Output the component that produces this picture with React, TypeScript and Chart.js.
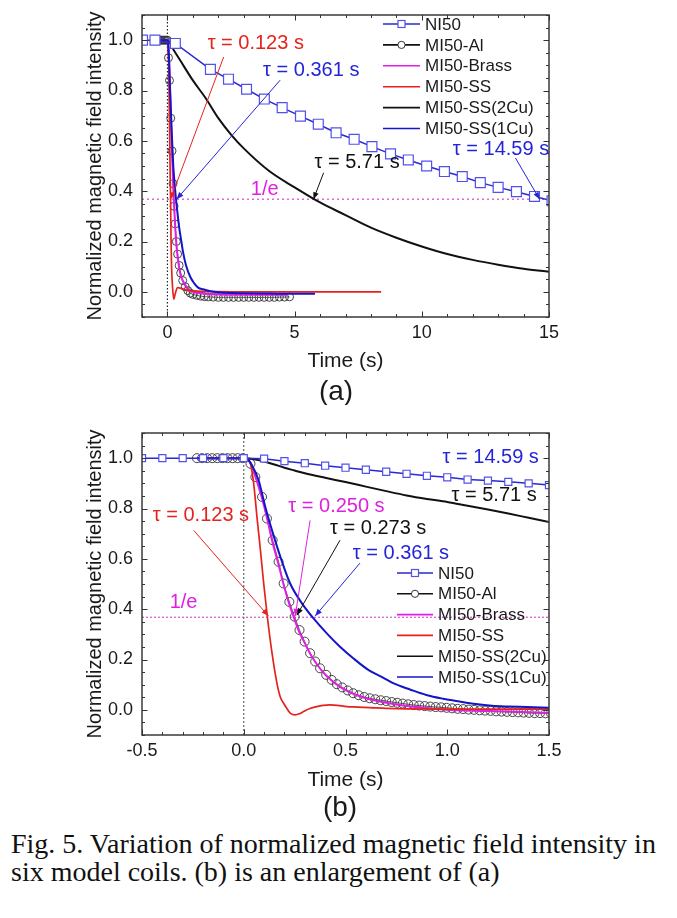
import React, { useEffect, useRef } from "react";
import { Chart, registerables } from "chart.js";
Chart.register(...registerables);

const FONT = "'Liberation Sans', Arial, Helvetica, sans-serif";
const SERIF = "'Liberation Serif', 'Times New Roman', serif";

// ---------------- colours ----------------
const C_NI50 = "#2a2ad0";
const C_NI50_MK = "#5252ea";
const C_BLUE = "#1414c8";
const C_BLUE_TXT = "#2424d8";
const C_MAG = "#e020e0";
const C_RED = "#e5231d";
const C_BLK = "#111111";
const C_AL = "#333333";

// ---------------- panel (a) data ----------------
const aNI50T = [-0.98, -0.49, 0.31, 1.69, 2.4, 3.11, 3.81, 4.51, 5.23, 5.93, 6.63, 7.34, 8.04, 8.77, 9.47, 10.19, 10.89, 11.59, 12.3, 13.0, 13.72, 14.43, 15.12];
const aNI50V = [1.0, 1.0, 0.987, 0.884, 0.845, 0.805, 0.766, 0.732, 0.698, 0.666, 0.632, 0.606, 0.577, 0.548, 0.524, 0.5, 0.478, 0.458, 0.434, 0.415, 0.398, 0.379, 0.362];

const aAlT = [-0.35, -0.3, -0.25, -0.2, -0.15, -0.1, -0.05, 0, 0.04, 0.08, 0.13, 0.18, 0.22, 0.26, 0.3, 0.35, 0.4, 0.46, 0.52, 0.6, 0.7, 0.8, 0.9, 1.0, 1.15, 1.3, 1.45, 1.6, 1.8, 2.0, 2.2, 2.4, 2.6, 2.8, 3.0, 3.2, 3.4, 3.6, 3.8, 4.0, 4.2, 4.4, 4.6, 4.8];
const aAlV = [1, 1, 1, 1, 1, 1, 1, 1, 0.93, 0.84, 0.69, 0.56, 0.43, 0.34, 0.27, 0.2, 0.15, 0.105, 0.075, 0.045, 0.02, 0.005, -0.005, -0.01, -0.014, -0.017, -0.019, -0.02, -0.021, -0.022, -0.022, -0.022, -0.022, -0.022, -0.022, -0.022, -0.022, -0.022, -0.022, -0.022, -0.022, -0.021, -0.021, -0.02];

const aBrassT = [-0.3, 0, 0.03, 0.06, 0.1, 0.15, 0.2, 0.25, 0.3, 0.35, 0.4, 0.5, 0.6, 0.75, 0.9, 1.1, 1.3, 1.6, 2.0, 2.5, 3.0, 3.5, 4.0, 4.7];
const aBrassV = [1, 1, 0.98, 0.92, 0.82, 0.64, 0.5, 0.37, 0.27, 0.19, 0.14, 0.075, 0.045, 0.02, 0.005, -0.003, -0.006, -0.009, -0.011, -0.012, -0.012, -0.012, -0.012, -0.012];

const aSST = [-0.3, 0, 0.03, 0.05, 0.07, 0.09, 0.11, 0.123, 0.14, 0.16, 0.2, 0.25, 0.3, 0.4, 0.5, 0.7, 1.0, 1.5, 2, 3, 4, 5, 6, 7, 8.4];
const aSSV = [1, 1, 0.98, 0.9, 0.75, 0.6, 0.45, 0.368, 0.22, 0.11, 0.02, -0.03, -0.01, 0.017, 0.015, 0.008, 0.004, 0.002, 0.001, 0, 0, 0, 0, 0, 0];

const a2CuT = [-0.3, 0, 0.25, 0.5, 1, 1.5, 2, 2.5, 3, 4, 5, 6, 7, 8, 9, 10, 11, 12, 13, 14, 15];
const a2CuV = [1, 1, 0.96, 0.92, 0.84, 0.77, 0.69, 0.625, 0.57, 0.48, 0.415, 0.355, 0.305, 0.255, 0.215, 0.18, 0.15, 0.127, 0.108, 0.092, 0.08];

const a1CuT = [-0.3, 0, 0.02, 0.04, 0.07, 0.1, 0.14, 0.18, 0.23, 0.29, 0.34, 0.41, 0.47, 0.54, 0.61, 0.73, 0.9, 1.06, 1.22, 1.4, 1.7, 2.0, 2.5, 3, 4, 5, 5.8];
const a1CuV = [1, 1, 0.997, 0.97, 0.91, 0.81, 0.71, 0.61, 0.5, 0.42, 0.365, 0.3, 0.25, 0.205, 0.16, 0.106, 0.059, 0.033, 0.016, 0.01, 0.002, -0.002, -0.005, -0.006, -0.007, -0.008, -0.008];

// ---------------- panel (b) data ----------------
const bNI50T = [-0.5, -0.4, -0.3, -0.2, -0.1, 0.0, 0.1, 0.2, 0.3, 0.4, 0.5, 0.6, 0.7, 0.8, 0.9, 1.0, 1.1, 1.2, 1.3, 1.4, 1.5];
const bNI50V = [1, 1, 1, 1, 1, 1, 0.998, 0.988, 0.98, 0.97, 0.962, 0.954, 0.946, 0.938, 0.93, 0.924, 0.915, 0.911, 0.906, 0.9, 0.893];

const bAlT = [-0.23, -0.205, -0.18, -0.155, -0.13, -0.105, -0.08, -0.055, -0.03, -0.005, 0.033, 0.057, 0.09, 0.114, 0.142, 0.171, 0.196, 0.224, 0.25, 0.274, 0.299, 0.326, 0.351, 0.375, 0.405, 0.432, 0.457, 0.484, 0.511, 0.538, 0.565, 0.592, 0.619, 0.646, 0.673, 0.7, 0.727, 0.754, 0.781, 0.808, 0.835, 0.862, 0.889, 0.916, 0.943, 0.97, 0.997, 1.024, 1.051, 1.078, 1.105, 1.132, 1.159, 1.186, 1.213, 1.24, 1.267, 1.294, 1.321, 1.348, 1.375, 1.402, 1.429, 1.456, 1.483, 1.51];
const bAlV = [1, 1, 1, 1, 1, 1, 1, 1, 1, 1, 0.978, 0.925, 0.846, 0.76, 0.674, 0.588, 0.502, 0.429, 0.37, 0.317, 0.271, 0.225, 0.192, 0.165, 0.139, 0.119, 0.102, 0.089, 0.077, 0.066, 0.058, 0.051, 0.046, 0.042, 0.038, 0.035, 0.031, 0.028, 0.025, 0.022, 0.019, 0.017, 0.015, 0.013, 0.011, 0.01, 0.008, 0.006, 0.004, 0.003, 0.001, 0.0, -0.002, -0.003, -0.004, -0.006, -0.007, -0.008, -0.009, -0.01, -0.011, -0.012, -0.013, -0.013, -0.014, -0.014];

const bBrassT = [-0.23, 0, 0.02, 0.04, 0.06, 0.09, 0.115, 0.14, 0.17, 0.195, 0.22, 0.245, 0.27, 0.3, 0.33, 0.36, 0.4, 0.45, 0.5, 0.55, 0.6, 0.7, 0.8, 0.9, 1.0, 1.1, 1.2, 1.3, 1.4, 1.5];
const bBrassV = [1, 1, 0.995, 0.97, 0.92, 0.84, 0.76, 0.67, 0.58, 0.5, 0.43, 0.37, 0.315, 0.265, 0.218, 0.18, 0.14, 0.105, 0.078, 0.06, 0.046, 0.028, 0.015, 0.007, 0.0, -0.003, -0.005, -0.007, -0.01, -0.013];

const bSST = [-0.23, 0, 0.02, 0.033, 0.049, 0.065, 0.082, 0.098, 0.117, 0.139, 0.163, 0.18, 0.196, 0.212, 0.228, 0.253, 0.275, 0.294, 0.325, 0.359, 0.39, 0.424, 0.46, 0.506, 0.56, 0.62, 0.7, 0.8, 1.0, 1.2, 1.5];
const bSSV = [1, 1, 0.995, 0.978, 0.898, 0.766, 0.634, 0.502, 0.363, 0.225, 0.106, 0.05, 0.026, 0.005, -0.013, -0.02, -0.015, -0.007, 0.005, 0.013, 0.018, 0.02, 0.018, 0.013, 0.011, 0.009, 0.006, 0.004, 0.003, 0.003, 0.003];

const b2CuT = [-0.23, 0, 0.05, 0.1, 0.15, 0.2, 0.25, 0.3, 0.4, 0.5, 0.6, 0.7, 0.8, 0.9, 1.0, 1.1, 1.2, 1.3, 1.4, 1.5];
const b2CuV = [1, 1, 0.996, 0.987, 0.975, 0.962, 0.951, 0.94, 0.922, 0.905, 0.887, 0.869, 0.852, 0.838, 0.826, 0.811, 0.796, 0.78, 0.763, 0.746];

const b1CuT = [-0.23, 0, 0.016, 0.041, 0.073, 0.106, 0.139, 0.18, 0.228, 0.286, 0.343, 0.408, 0.473, 0.538, 0.612, 0.68, 0.734, 0.82, 0.897, 0.98, 1.06, 1.14, 1.22, 1.3, 1.39, 1.5];
const b1CuV = [1, 1, 0.997, 0.971, 0.912, 0.806, 0.713, 0.608, 0.502, 0.423, 0.363, 0.304, 0.251, 0.205, 0.159, 0.13, 0.106, 0.08, 0.059, 0.044, 0.033, 0.023, 0.016, 0.013, 0.011, 0.008];

// ---------------- axes / ticks ----------------
const aXLabels = [0, 5, 10, 15];
const aXMinorStep = 1;
const aXRange = [-1, 15];
const bXLabels = [-0.5, 0.0, 0.5, 1.0, 1.5];
const bXMinorStep = 0.1;
const bXRange = [-0.5, 1.5];
const yLabels = [0.0, 0.2, 0.4, 0.6, 0.8, 1.0];
const yMinorStep = 0.05;
const yRange = [-0.1, 1.1];
const INV_E = 0.368;

const legendLabels = ["NI50", "MI50-Al", "MI50-Brass", "MI50-SS", "MI50-SS(2Cu)", "MI50-SS(1Cu)"];
const legendColors = [C_NI50, C_BLK, C_MAG, C_RED, C_BLK, C_BLUE];

type Note = { text: string; color: string; tx: number; ty: number; arrow?: number[] };

const aNotes: Note[] = [
  { text: "τ = 0.123 s", color: C_RED, tx: 1.58, ty: 0.988, arrow: [2.21, 0.933, 0.123, 0.368] },
  { text: "τ = 0.361 s", color: C_BLUE_TXT, tx: 3.76, ty: 0.881, arrow: [4.43, 0.841, 0.361, 0.368] },
  { text: "τ = 5.71 s", color: C_BLK, tx: 5.78, ty: 0.512, arrow: [6.14, 0.473, 5.74, 0.368] },
  { text: "τ = 14.59 s", color: C_BLUE_TXT, tx: 11.22, ty: 0.564, arrow: [13.68, 0.532, 14.63, 0.368] },
  { text: "1/e", color: C_MAG, tx: 3.28, ty: 0.405 },
];
const bNotes: Note[] = [
  { text: "τ = 0.123 s", color: C_RED, tx: -0.447, ty: 0.773, arrow: [-0.246, 0.713, 0.121, 0.373] },
  { text: "τ = 0.250 s", color: C_MAG, tx: 0.219, ty: 0.809, arrow: [0.326, 0.753, 0.253, 0.373] },
  { text: "τ = 0.273 s", color: C_BLK, tx: 0.424, ty: 0.721, arrow: [0.473, 0.674, 0.261, 0.376] },
  { text: "τ = 0.361 s", color: C_BLUE_TXT, tx: 0.536, ty: 0.622, arrow: [0.571, 0.583, 0.351, 0.373] },
  { text: "τ = 14.59 s", color: C_BLUE_TXT, tx: 0.977, ty: 1.003 },
  { text: "τ = 5.71 s", color: C_BLK, tx: 1.021, ty: 0.852 },
  { text: "1/e", color: C_MAG, tx: -0.364, ty: 0.428 },
];

const pts = (t: number[], v: number[]) => t.map((x, i) => ({ x, y: v[i] }));

function stepValues(lo: number, hi: number, step: number) {
  const out: number[] = [];
  const n = Math.round((hi - lo) / step);
  for (let i = 0; i <= n; i++) out.push(+(lo + i * step).toFixed(4));
  return out;
}

type Panel = {
  height: number;
  top: number;
  bottom: number;
  xRange: number[];
  xLabels: number[];
  xMinorStep: number;
  xFmt: (v: number) => string;
  data: { ni: any[]; al: any[]; brass: any[]; ss: any[]; cu2: any[]; cu1: any[] };
  sqR: number;
  ciR: number;
  notes: Note[];
  legend: { x0: number; x1: number; tx: number; y0: number; dy: number };
  tag: string;
  tagX: number;
  tagY: number;
  titlePad: number;
  zeroColor: string;
  zeroDash: number[];
  eDash: number[];
  eWidth: number;
  eColor: string;
};

function arrow(ctx: CanvasRenderingContext2D, x1: number, y1: number, x2: number, y2: number, color: string) {
  ctx.save();
  ctx.strokeStyle = color;
  ctx.fillStyle = color;
  ctx.lineWidth = 1;
  ctx.beginPath();
  ctx.moveTo(x1, y1);
  ctx.lineTo(x2, y2);
  ctx.stroke();
  const ang = Math.atan2(y2 - y1, x2 - x1);
  const L = 7, W = 2.8;
  ctx.beginPath();
  ctx.moveTo(x2, y2);
  ctx.lineTo(x2 - L * Math.cos(ang) + W * Math.sin(ang), y2 - L * Math.sin(ang) - W * Math.cos(ang));
  ctx.lineTo(x2 - L * Math.cos(ang) - W * Math.sin(ang), y2 - L * Math.sin(ang) + W * Math.cos(ang));
  ctx.closePath();
  ctx.fill();
  ctx.restore();
}

function makePlugin(p: Panel) {
  return {
    id: "deco",
    beforeDatasetsDraw(chart: any) {
      const { ctx, chartArea: a, scales } = chart;
      ctx.save();
      // 1/e line
      const ye = scales.y.getPixelForValue(INV_E);
      ctx.strokeStyle = p.eColor;
      ctx.lineWidth = p.eWidth;
      ctx.setLineDash(p.eDash);
      ctx.beginPath();
      ctx.moveTo(a.left, ye);
      ctx.lineTo(a.right, ye);
      ctx.stroke();
      // t = 0 line
      const x0 = scales.x.getPixelForValue(0);
      ctx.strokeStyle = p.zeroColor;
      ctx.lineWidth = 1.2;
      ctx.setLineDash(p.zeroDash);
      ctx.beginPath();
      ctx.moveTo(x0, a.top);
      ctx.lineTo(x0, a.bottom);
      ctx.stroke();
      ctx.restore();
    },
    afterDatasetsDraw(chart: any) {
      const { ctx, chartArea: a, scales } = chart;
      const sx = scales.x, sy = scales.y;
      ctx.save();
      // frame
      ctx.strokeStyle = "#3a3a3a";
      ctx.lineWidth = 1.5;
      ctx.strokeRect(a.left, a.top, a.right - a.left, a.bottom - a.top);
      // inward ticks
      ctx.lineWidth = 1;
      ctx.strokeStyle = "#333";
      const xs = stepValues(p.xRange[0], p.xRange[1], p.xMinorStep);
      xs.forEach((v) => {
        const major = p.xLabels.some((m) => Math.abs(m - v) < 1e-6);
        const L = major ? 5.5 : 3;
        const px = Math.round(sx.getPixelForValue(v)) + 0.5;
        ctx.beginPath();
        ctx.moveTo(px, a.bottom);
        ctx.lineTo(px, a.bottom - L);
        ctx.moveTo(px, a.top);
        ctx.lineTo(px, a.top + L);
        ctx.stroke();
      });
      const ys = stepValues(yRange[0], yRange[1], yMinorStep);
      ys.forEach((v) => {
        const major = yLabels.some((m) => Math.abs(m - v) < 1e-6);
        const L = major ? 5.5 : 3;
        const py = Math.round(sy.getPixelForValue(v)) + 0.5;
        ctx.beginPath();
        ctx.moveTo(a.left, py);
        ctx.lineTo(a.left + L, py);
        ctx.moveTo(a.right, py);
        ctx.lineTo(a.right - L, py);
        ctx.stroke();
      });
      // annotations
      ctx.font = `20px ${FONT}`;
      ctx.textBaseline = "middle";
      ctx.textAlign = "left";
      p.notes.forEach((n) => {
        ctx.fillStyle = n.color;
        ctx.fillText(n.text, sx.getPixelForValue(n.tx), sy.getPixelForValue(n.ty));
        if (n.arrow) {
          const [x1, y1, x2, y2] = n.arrow;
          arrow(ctx, sx.getPixelForValue(x1), sy.getPixelForValue(y1), sx.getPixelForValue(x2), sy.getPixelForValue(y2), n.color);
        }
      });
      // legend
      const lg = p.legend;
      ctx.font = `17px ${FONT}`;
      legendLabels.forEach((lab, i) => {
        const y = lg.y0 + i * lg.dy;
        ctx.strokeStyle = legendColors[i];
        ctx.lineWidth = 1.6;
        ctx.beginPath();
        ctx.moveTo(lg.x0, y);
        ctx.lineTo(lg.x1, y);
        ctx.stroke();
        const cx = (lg.x0 + lg.x1) / 2;
        if (i === 0) {
          ctx.fillStyle = "#fff";
          ctx.fillRect(cx - 3.5, y - 3.5, 7, 7);
          ctx.strokeStyle = C_NI50_MK;
          ctx.lineWidth = 1.2;
          ctx.strokeRect(cx - 3.5, y - 3.5, 7, 7);
        } else if (i === 1) {
          ctx.fillStyle = "#fff";
          ctx.beginPath();
          ctx.arc(cx, y, 3.6, 0, Math.PI * 2);
          ctx.fill();
          ctx.strokeStyle = C_AL;
          ctx.lineWidth = 1;
          ctx.stroke();
        }
        ctx.fillStyle = "#1a1a1a";
        ctx.fillText(lab, lg.tx, y + 1);
      });
      // panel tag
      ctx.font = `28px ${FONT}`;
      ctx.textAlign = "center";
      ctx.fillStyle = "#1a1a1a";
      ctx.fillText(p.tag, p.tagX, p.tagY);
      ctx.restore();
    },
  };
}

function makeConfig(p: Panel): any {
  const W = 677;
  const plotLeft = 142;
  const plotRight = 549;
  return {
    type: "line",
    data: {
      datasets: [
        {
          label: "NI50", data: p.data.ni, borderColor: C_NI50, borderWidth: 1.5,
          pointStyle: "rect", pointRadius: p.sqR, pointBorderColor: C_NI50_MK, pointBackgroundColor: "#fff",
          pointBorderWidth: 1.2, order: 0,
        },
        {
          label: "MI50-SS(1Cu)", data: p.data.cu1, borderColor: C_BLUE, borderWidth: 2, pointRadius: 0,
          cubicInterpolationMode: "monotone", order: 1,
        },
        {
          label: "MI50-SS", data: p.data.ss, borderColor: C_RED, borderWidth: 1.7, pointRadius: 0,
          cubicInterpolationMode: "monotone", order: 2,
        },
        {
          label: "MI50-Brass", data: p.data.brass, borderColor: C_MAG, borderWidth: 2, pointRadius: 0,
          cubicInterpolationMode: "monotone", order: 3,
        },
        {
          label: "MI50-Al", data: p.data.al, borderColor: C_AL, borderWidth: 0.8, pointStyle: "circle",
          pointRadius: p.ciR, pointBorderColor: C_AL, pointBackgroundColor: "rgba(255,255,255,0)",
          pointBorderWidth: 0.9, cubicInterpolationMode: "monotone", order: 4,
        },
        {
          label: "MI50-SS(2Cu)", data: p.data.cu2, borderColor: C_BLK, borderWidth: 2, pointRadius: 0,
          cubicInterpolationMode: "monotone", order: 5,
        },
      ],
    },
    options: {
      responsive: false,
      maintainAspectRatio: false,
      animation: false,
      events: [],
      devicePixelRatio: 1,
      layout: { padding: { left: 0, top: p.top, right: W - plotRight, bottom: 0 } },
      plugins: { legend: { display: false }, tooltip: { enabled: false } },
      scales: {
        x: {
          type: "linear",
          min: p.xRange[0],
          max: p.xRange[1],
          grid: { display: false, drawTicks: false },
          border: { display: false },
          afterBuildTicks: (s: any) => { s.ticks = p.xLabels.map((v) => ({ value: v })); },
          ticks: {
            padding: 5,
            color: "#1a1a1a",
            font: { family: FONT, size: 18 },
            maxRotation: 0,
            autoSkip: false,
            callback: (v: any) => p.xFmt(Number(v)),
          },
          title: {
            display: true,
            text: "Time (s)",
            color: "#1a1a1a",
            font: { family: FONT, size: 21 },
            padding: { top: 0, bottom: p.titlePad },
          },
          afterFit: (s: any) => {
            s.height = p.height - p.bottom;
            s.paddingLeft = 0;
            s.paddingRight = 0;
          },
        },
        y: {
          type: "linear",
          min: yRange[0],
          max: yRange[1],
          grid: { display: false, drawTicks: false },
          border: { display: false },
          afterBuildTicks: (s: any) => { s.ticks = yLabels.map((v) => ({ value: v })); },
          ticks: {
            padding: 9,
            color: "#1a1a1a",
            font: { family: FONT, size: 18 },
            autoSkip: false,
            callback: (v: any) => Number(v).toFixed(1),
          },
          title: {
            display: true,
            text: "Normalized magnetic field intensity",
            color: "#1a1a1a",
            font: { family: FONT, size: 20 },
            padding: { top: 83, bottom: 0 },
          },
          afterFit: (s: any) => {
            s.width = plotLeft;
            s.paddingTop = 0;
            s.paddingBottom = 0;
          },
        },
      },
    },
    plugins: [makePlugin(p)],
  };
}

const panelA: Panel = {
  height: 405,
  top: 15,
  bottom: 317,
  xRange: aXRange,
  xLabels: aXLabels,
  xMinorStep: aXMinorStep,
  xFmt: (v) => String(v),
  data: {
    ni: pts(aNI50T, aNI50V), al: pts(aAlT, aAlV), brass: pts(aBrassT, aBrassV),
    ss: pts(aSST, aSSV), cu2: pts(a2CuT, a2CuV), cu1: pts(a1CuT, a1CuV),
  },
  sqR: 7,
  ciR: 4,
  notes: aNotes,
  legend: { x0: 383, x1: 420, tx: 425, y0: 24, dy: 20.9 },
  tag: "(a)",
  tagX: 336,
  tagY: 392,
  titlePad: 31,
  zeroColor: "#222",
  zeroDash: [1.5, 2],
  eDash: [2, 3],
  eWidth: 1.5,
  eColor: "#e066e0",
};

const panelB: Panel = {
  height: 405,
  top: 13,
  bottom: 315,
  xRange: bXRange,
  xLabels: bXLabels,
  xMinorStep: bXMinorStep,
  xFmt: (v) => v.toFixed(1),
  data: {
    ni: pts(bNI50T, bNI50V), al: pts(bAlT, bAlV), brass: pts(bBrassT, bBrassV),
    ss: pts(bSST, bSSV), cu2: pts(b2CuT, b2CuV), cu1: pts(b1CuT, b1CuV),
  },
  sqR: 5,
  ciR: 4.5,
  notes: bNotes,
  legend: { x0: 397, x1: 433, tx: 438, y0: 153, dy: 20.8 },
  tag: "(b)",
  tagX: 340,
  tagY: 388,
  titlePad: 32,
  zeroColor: "#666",
  zeroDash: [2, 2],
  eDash: [2, 2],
  eWidth: 1,
  eColor: "#d030d0",
};

function ChartPanel({ panel, top }: { panel: Panel; top: number }) {
  const ref = useRef<HTMLCanvasElement | null>(null);
  useEffect(() => {
    if (!ref.current) return;
    const chart = new Chart(ref.current, makeConfig(panel));
    return () => chart.destroy();
  }, [panel]);
  return (
    <canvas
      ref={ref}
      width={677}
      height={panel.height}
      style={{ position: "absolute", left: 0, top, width: 677, height: panel.height }}
    />
  );
}

export default function App() {
  const cap: React.CSSProperties = {
    position: "absolute",
    left: 11,
    fontFamily: SERIF,
    fontSize: 28,
    lineHeight: "28px",
    whiteSpace: "nowrap",
    color: "#111",
  };
  return (
    <div style={{ position: "absolute", left: 0, top: 0, width: 677, height: 918, background: "#fff", overflow: "hidden" }}>
      <ChartPanel panel={panelA} top={0} />
      <ChartPanel panel={panelB} top={420} />
      <div style={{ ...cap, top: 830 }}>Fig. 5. Variation of normalized magnetic field intensity in</div>
      <div style={{ ...cap, top: 858 }}>six model coils. (b) is an enlargement of (a)</div>
    </div>
  );
}
